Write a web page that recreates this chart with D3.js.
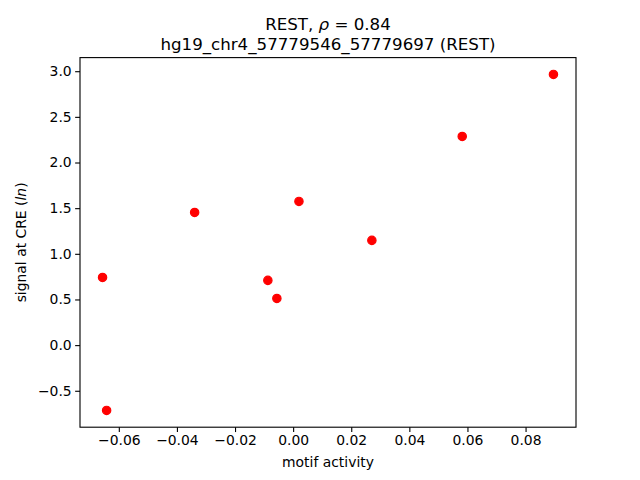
<!DOCTYPE html>
<html>
<head>
<meta charset="utf-8">
<script src="https://cdn.jsdelivr.net/npm/d3@7"></script>
<style>
body{margin:0;background:#fff;}
text{font-family:"DejaVu Sans",sans-serif;}
</style>
</head>
<body>
<svg id="chart" width="640" height="480"></svg>
<script>
const motifActivity = [-0.0656, -0.0642, -0.0339, -0.0087, -0.0056, 0.0020, 0.0271, 0.0582, 0.0896];
const signalAtCRE   = [0.741, -0.715, 1.453, 0.709, 0.511, 1.574, 1.147, 2.285, 2.965];
const xTicks = [-0.06, -0.04, -0.02, 0.00, 0.02, 0.04, 0.06, 0.08];
const yTicks = [-0.5, 0.0, 0.5, 1.0, 1.5, 2.0, 2.5, 3.0];

const svg = d3.select("#chart");
const L = 80, R = 576, T = 57.6, B = 427.2;

const xmin = d3.min(motifActivity), xmax = d3.max(motifActivity);
const xpad = (xmax - xmin) * 0.05;
const ymin = d3.min(signalAtCRE), ymax = d3.max(signalAtCRE);
const ypad = (ymax - ymin) * 0.05;

const x = d3.scaleLinear().domain([xmin - xpad, xmax + xpad]).range([L, R]);
const y = d3.scaleLinear().domain([ymin - ypad, ymax + ypad]).range([B, T]);

const minus = s => s.replace("-", "\u2212");

const xAxis = d3.axisBottom(x).tickValues(xTicks).tickSize(4.86).tickPadding(3.5)
  .tickFormat(d => minus(d3.format(".2f")(d)));
const yAxis = d3.axisLeft(y).tickValues(yTicks).tickSize(4.86).tickPadding(3.5)
  .tickFormat(d => minus(d3.format(".1f")(d)));

const gx = svg.append("g").attr("transform", `translate(0,${B})`).call(xAxis);
const gy = svg.append("g").attr("transform", `translate(${L},0)`).call(yAxis);
[gx, gy].forEach(g => {
  g.select(".domain").remove();
  g.selectAll(".tick line").attr("stroke", "#000").attr("stroke-width", 1.11);
  g.selectAll(".tick text").attr("fill", "#000").attr("font-size", 13.9)
    .attr("font-family", "DejaVu Sans");
});

// points
svg.append("g").selectAll("circle")
  .data(motifActivity.map((d, i) => [d, signalAtCRE[i]]))
  .join("circle")
  .attr("cx", d => x(d[0]))
  .attr("cy", d => y(d[1]))
  .attr("r", 4.17)
  .attr("fill", "#ff0000")
  .attr("stroke", "#ff0000")
  .attr("stroke-width", 1.2);

// frame
svg.append("rect").attr("x", L).attr("y", T).attr("width", R - L).attr("height", B - T)
  .attr("fill", "none").attr("stroke", "#000").attr("stroke-width", 1.11);

// title
const cx = (L + R) / 2;
const t1 = svg.append("text").attr("x", cx).attr("y", 29.5).attr("text-anchor", "middle")
  .attr("font-size", 16.67).attr("fill", "#000");
t1.append("tspan").text("REST, ");
t1.append("tspan").attr("font-style", "italic").text("\u03c1");
t1.append("tspan").text(" = 0.84");
svg.append("text").attr("x", cx).attr("y", 49.5).attr("text-anchor", "middle")
  .attr("font-size", 16.67).attr("fill", "#000").text("hg19_chr4_57779546_57779697 (REST)");

// axis labels
svg.append("text").attr("x", cx).attr("y", 467).attr("text-anchor", "middle")
  .attr("font-size", 13.9).attr("fill", "#000").text("motif activity");
const yl = svg.append("text").attr("transform", `translate(26,${(T + B) / 2}) rotate(-90)`)
  .attr("text-anchor", "middle").attr("font-size", 13.9).attr("fill", "#000");
yl.append("tspan").text("signal at CRE (");
yl.append("tspan").attr("font-style", "italic").text("ln");
yl.append("tspan").text(")");
</script>
</body>
</html>
